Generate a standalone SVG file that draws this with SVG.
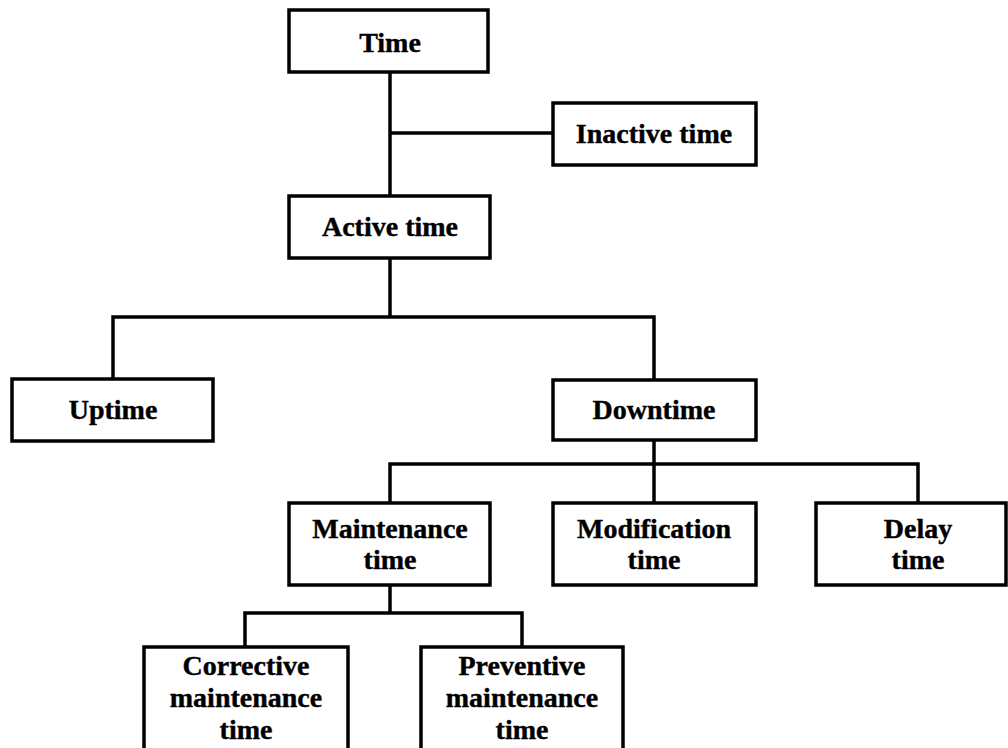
<svg xmlns="http://www.w3.org/2000/svg" width="1008" height="748" viewBox="0 0 1008 748">
  <style>
    .box { fill: #ffffff; stroke: #000000; stroke-width: 3.5; }
    .lbl { font-family: "Liberation Serif", "Times New Roman", serif; font-weight: bold; font-size: 28px; text-anchor: middle; fill: #000000; stroke: #000000; stroke-width: 0.4; }
    .wire { fill: none; stroke: #000000; stroke-width: 3.5; }
  </style>
  <rect width="1008" height="748" fill="#ffffff"/>

  <g id="connectors">
    <path class="wire" d="M390 72 V196"/>
    <path class="wire" d="M390 133 H553"/>
    <path class="wire" d="M390 258 V317"/>
    <path class="wire" d="M113 379 V317 H654 V380"/>
    <path class="wire" d="M654 440 V503"/>
    <path class="wire" d="M390 503 V464 H918 V503"/>
    <path class="wire" d="M390 585 V613"/>
    <path class="wire" d="M245 647 V613 H522 V647"/>
  </g>

  <g id="time">
    <rect class="box" x="289" y="10" width="199" height="62"/>
    <text class="lbl" x="390" y="52">Time</text>
  </g>
  <g id="inactive-time">
    <rect class="box" x="553" y="103" width="203" height="62"/>
    <text class="lbl" x="654" y="143">Inactive time</text>
  </g>
  <g id="active-time">
    <rect class="box" x="289" y="196" width="201" height="62"/>
    <text class="lbl" x="390" y="236">Active time</text>
  </g>
  <g id="uptime">
    <rect class="box" x="12" y="379" width="201" height="62"/>
    <text class="lbl" x="113" y="419">Uptime</text>
  </g>
  <g id="downtime">
    <rect class="box" x="553" y="380" width="203" height="60"/>
    <text class="lbl" x="654" y="419">Downtime</text>
  </g>
  <g id="maintenance-time">
    <rect class="box" x="289" y="503" width="201" height="82"/>
    <text class="lbl" x="390" y="538">Maintenance</text>
    <text class="lbl" x="390" y="569">time</text>
  </g>
  <g id="modification-time">
    <rect class="box" x="553" y="503" width="203" height="82"/>
    <text class="lbl" x="654" y="538">Modification</text>
    <text class="lbl" x="654" y="569">time</text>
  </g>
  <g id="delay-time">
    <rect class="box" x="816" y="503" width="190" height="82"/>
    <text class="lbl" x="918" y="538">Delay</text>
    <text class="lbl" x="918" y="569">time</text>
  </g>
  <g id="corrective-maintenance-time">
    <rect class="box" x="144" y="647" width="204" height="110"/>
    <text class="lbl" x="246" y="675">Corrective</text>
    <text class="lbl" x="246" y="707">maintenance</text>
    <text class="lbl" x="246" y="739">time</text>
  </g>
  <g id="preventive-maintenance-time">
    <rect class="box" x="421" y="647" width="202" height="110"/>
    <text class="lbl" x="522" y="675">Preventive</text>
    <text class="lbl" x="522" y="707">maintenance</text>
    <text class="lbl" x="522" y="739">time</text>
  </g>
</svg>
